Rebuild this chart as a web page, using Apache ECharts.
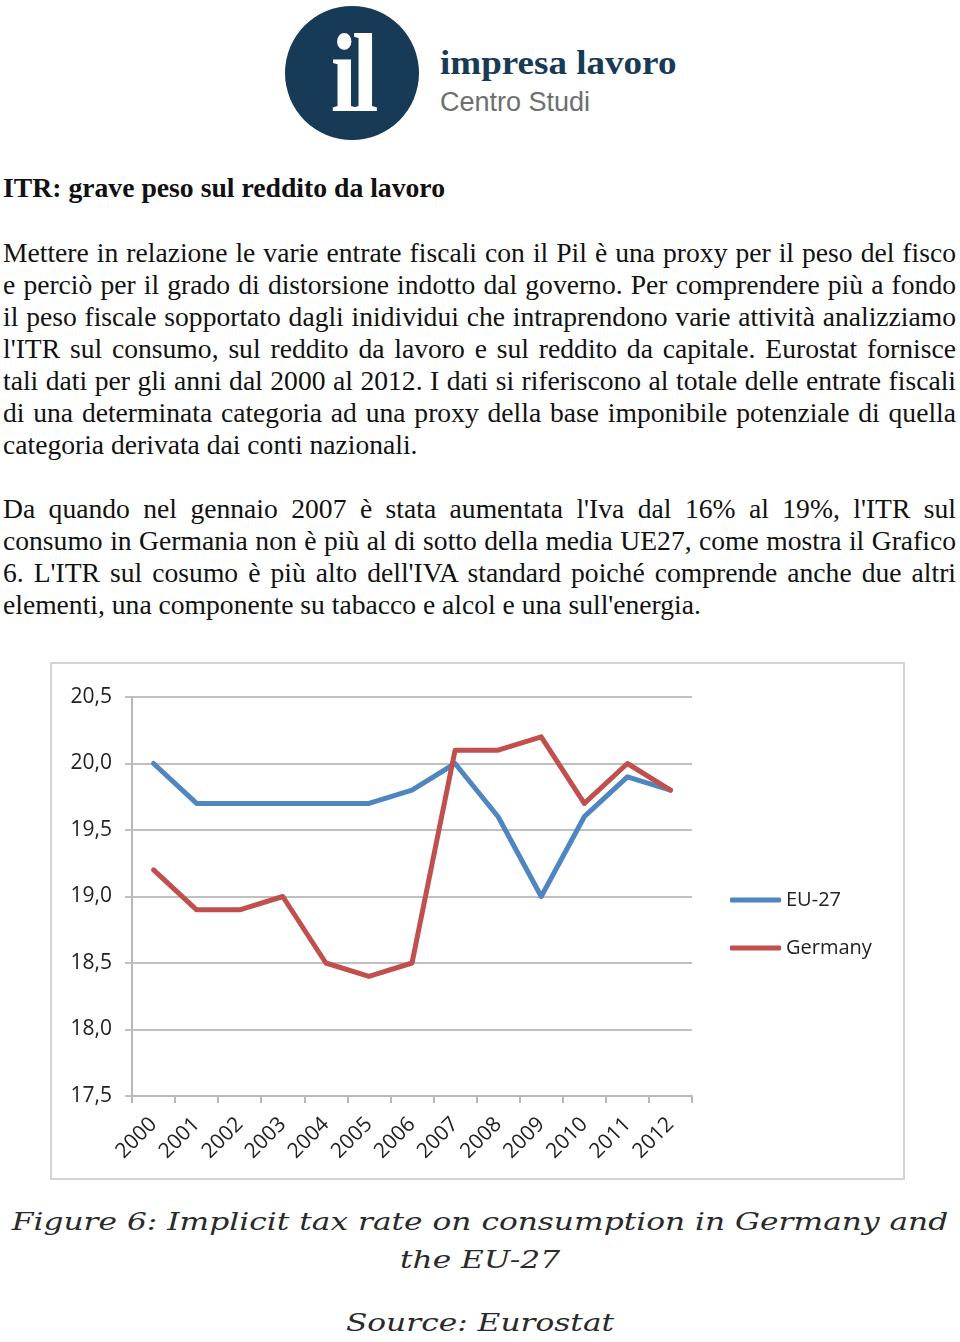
<!DOCTYPE html>
<html>
<head>
<meta charset="utf-8">
<script src="https://cdn.jsdelivr.net/npm/echarts@6/dist/echarts.min.js"></script>
<style>
  html, body { margin: 0; padding: 0; background: #fff; }
  body { width: 960px; height: 1342px; position: relative; overflow: hidden; }
  .logo-circle { position: absolute; left: 285px; top: 6px; width: 134px; height: 134px; border-radius: 50%; background: #173a56; }
  .logo-il { position: absolute; left: 0; top: 0; width: 134px; text-align: center; color: #fff; font-family: "Liberation Serif", serif; font-weight: bold; font-size: 112px; line-height: 134px; letter-spacing: -6px; transform: scaleX(0.85); }
  .brand1 { position: absolute; left: 440px; top: 44px; font-family: "Liberation Serif", serif; font-weight: bold; font-size: 34px; color: #173a56; white-space: nowrap; transform-origin: 0 0; transform: scaleX(1.09); }
  .brand2 { position: absolute; left: 440px; top: 87px; font-family: "Liberation Sans", sans-serif; font-weight: 300; font-size: 27px; color: #6d6e70; white-space: nowrap; }
  .title { position: absolute; left: 3px; top: 172px; line-height: 32px; font-family: "Liberation Serif", serif; font-weight: bold; font-size: 27.7px; color: #111; white-space: nowrap; }
  .para { position: absolute; left: 3px; width: 953px; font-family: "Liberation Serif", serif; font-size: 27.6px; color: #111; }
  .para div { height: 32px; line-height: 32px; text-align: justify; text-align-last: justify; white-space: nowrap; }
  .para div.last { text-align: left; text-align-last: left; }
  #chart { position: absolute; left: 50px; top: 662px; width: 855px; height: 518px; }
  .caption { position: absolute; left: 0; width: 960px; text-align: center; font-family: "DejaVu Serif", serif; font-style: italic; font-size: 25px; color: #2a2a2a; white-space: nowrap; transform: scaleX(1.25); transform-origin: 480px 0; }
</style>
</head>
<body>
<div class="logo-circle"><div class="logo-il">il</div></div>
<div class="brand1">impresa lavoro</div>
<div class="brand2">Centro Studi</div>

<div class="title">ITR: grave peso sul reddito da lavoro</div>

<div class="para" style="top:237px">
  <div>Mettere in relazione le varie entrate fiscali con il Pil è una proxy per il peso del fisco</div>
  <div>e perciò per il grado di distorsione indotto dal governo. Per comprendere più a fondo</div>
  <div>il peso fiscale sopportato dagli inidividui che intraprendono varie attività analizziamo</div>
  <div>l'ITR sul consumo, sul reddito da lavoro e sul reddito da capitale. Eurostat fornisce</div>
  <div>tali dati per gli anni dal 2000 al 2012. I dati si riferiscono al totale delle entrate fiscali</div>
  <div>di una determinata categoria ad una proxy della base imponibile potenziale di quella</div>
  <div class="last">categoria derivata dai conti nazionali.</div>
</div>

<div class="para" style="top:493px">
  <div>Da quando nel gennaio 2007 è stata aumentata l'Iva dal 16% al 19%, l'ITR sul</div>
  <div>consumo in Germania non è più al di sotto della media UE27, come mostra il Grafico</div>
  <div>6. L'ITR sul cosumo è più alto dell'IVA standard poiché comprende anche due altri</div>
  <div class="last">elementi, una componente su tabacco e alcol e una sull'energia.</div>
</div>

<div id="chart"></div>

<div class="caption" style="top:1207px">Figure 6: Implicit tax rate on consumption in Germany and</div>
<div class="caption" style="top:1245px">the EU-27</div>
<div class="caption" style="top:1308px">Source: Eurostat</div>

<script>
const years = ['2000','2001','2002','2003','2004','2005','2006','2007','2008','2009','2010','2011','2012'];
const eu27 = [20.0, 19.7, 19.7, 19.7, 19.7, 19.7, 19.8, 20.0, 19.6, 19.0, 19.6, 19.9, 19.8];
const germany = [19.2, 18.9, 18.9, 19.0, 18.5, 18.4, 18.5, 20.1, 20.1, 20.2, 19.7, 20.0, 19.8];
const seriesNames = ['EU-27', 'Germany'];

const chart = echarts.init(document.getElementById('chart'));
const labelFont = '"Open Sans", sans-serif';
chart.setOption({
  backgroundColor: '#fff',
  animation: false,
  graphic: [{
    type: 'rect',
    shape: { x: 1, y: 1, width: 853, height: 516 },
    style: { fill: 'none', stroke: '#d4d4d4', lineWidth: 2 },
    z: 0
  }],
  grid: { left: 82, right: 213, top: 35, bottom: 84 },
  legend: {
    orient: 'vertical',
    left: 680,
    top: 228,
    padding: 0,
    itemWidth: 51,
    itemHeight: 5,
    itemGap: 28,
    icon: 'roundRect',
    textStyle: { fontFamily: labelFont, fontSize: 20, color: '#222', lineHeight: 20 },
    data: seriesNames
  },
  xAxis: {
    type: 'category',
    data: years,
    boundaryGap: true,
    axisLine: { lineStyle: { color: '#b8b8b8', width: 2 } },
    axisTick: { show: true, length: 7, lineStyle: { color: '#b8b8b8', width: 2 } },
    axisLabel: { rotate: 45, fontFamily: labelFont, fontSize: 21, color: '#222', margin: 25, interval: 0 },
    splitLine: { show: false }
  },
  yAxis: {
    type: 'value',
    min: 17.5,
    max: 20.5,
    interval: 0.5,
    axisLine: { show: true, lineStyle: { color: '#b8b8b8', width: 2 } },
    axisTick: { show: true, length: 7, lineStyle: { color: '#c0c0c0', width: 2 } },
    axisLabel: {
      fontFamily: labelFont, fontSize: 21, color: '#222', margin: 20,
      formatter: v => v.toFixed(1).replace('.', ',')
    },
    splitLine: { show: true, lineStyle: { color: '#c0c0c0', width: 2 } }
  },
  series: [
    { name: seriesNames[0], type: 'line', data: eu27, symbol: 'none', color: '#4F86C2',
      lineStyle: { width: 5, color: '#4F86C2', join: 'round', cap: 'round' } },
    { name: seriesNames[1], type: 'line', data: germany, symbol: 'none', color: '#C0504D',
      lineStyle: { width: 5, color: '#C0504D', join: 'round', cap: 'round' } }
  ]
});
</script>
</body>
</html>
